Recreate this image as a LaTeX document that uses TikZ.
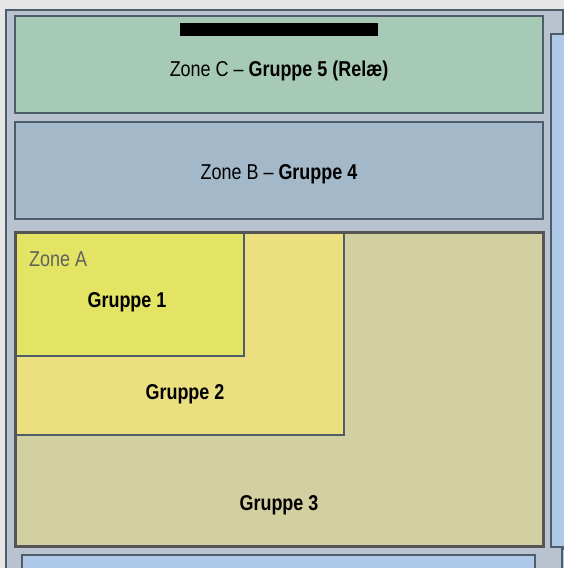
\documentclass[tikz,border=0pt]{standalone}
\usepackage{fontspec}
\setmainfont[FakeStretch=0.835]{Liberation Sans}
\definecolor{bgc}{HTML}{E6E6E6}
\definecolor{panel}{HTML}{B9C3CF}
\definecolor{edge}{HTML}{4D5E6A}
\definecolor{zc}{HTML}{A7CAB6}
\definecolor{zb}{HTML}{A3B8C9}
\definecolor{za}{HTML}{D2D0A0}
\definecolor{gtwo}{HTML}{ECDF80}
\definecolor{gone}{HTML}{E3E463}
\definecolor{strip}{HTML}{AECAE8}
\definecolor{zaedge}{HTML}{555555}
\definecolor{lbl}{HTML}{606060}
\tikzset{
  box/.style={draw=edge, line width=1.2pt},
  lab/.style={inner sep=0pt, font=\fontsize{21.5}{24}\selectfont, text=black},
}
\begin{document}
\begin{tikzpicture}[x=1pt,y=-1pt]
\useasboundingbox (0,0) rectangle (564,568);
\fill[bgc] (0,0) rectangle (564,568);
% outer panel
\draw[edge, fill=panel, line width=1.2pt] (6,10) rectangle (563,600);
% side strips
\draw[box, fill=strip] (551,34) rectangle (580,547);
\draw[box, fill=strip] (562,549) rectangle (580,600);
\draw[box, fill=strip] (22,555) rectangle (535,600);
% zone C
\draw[box, fill=zc] (15,16) rectangle (543,113);
\fill[black] (180,23) rectangle (378,36);
\node[lab] (zoneC) at (279,70.5) {Zone C -- \textbf{Gruppe 5 (Relæ)}};
% zone B
\draw[box, fill=zb] (15,122) rectangle (543,219);
\node[lab] (zoneB) at (279,174) {Zone B -- \textbf{Gruppe 4}};
% zone A
\fill[za] (15,232) rectangle (543,546);
\draw[box, fill=gtwo] (15,232) rectangle (344,435);
\draw[box, fill=gone] (15,232) rectangle (244,356);
\draw[draw=zaedge, line width=3pt] (15,232) rectangle (543,546);
\node[lab, text=lbl, anchor=west] (zoneA) at (29,259) {Zone A};
\node[lab] (g1) at (127,302) {\textbf{Gruppe 1}};
\node[lab] (g2) at (185,394.5) {\textbf{Gruppe 2}};
\node[lab] (g3) at (279,505.5) {\textbf{Gruppe 3}};
\end{tikzpicture}
\end{document}
